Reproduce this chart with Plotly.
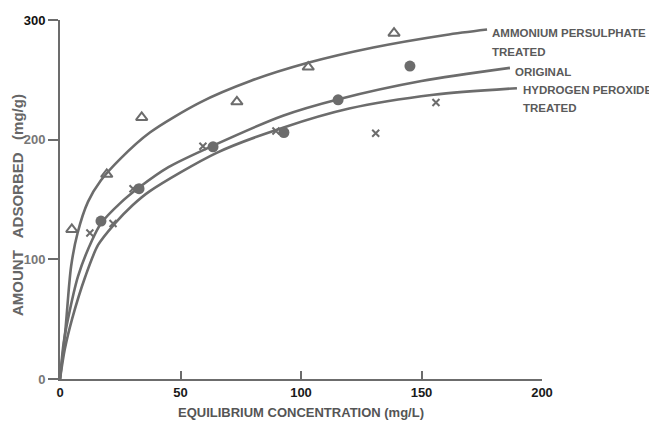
import plotly.graph_objects as go

# Measured data points
aps_x = [4.9, 19.4, 33.9, 73.4, 103.0, 138.6]
aps_y = [125, 171, 218.6, 231.6, 260.7, 289]
orig_x = [17.0, 32.8, 63.5, 92.9, 115.4, 145.2]
orig_y = [132, 159, 194, 206, 233.3, 261.5]
hp_x = [12.4, 22.0, 30.3, 59.3, 89.6, 131.0, 156.0]
hp_y = [122, 130, 159, 194.5, 207.3, 205.4, 231]

# Fitted curves
aps_cx = [0, 2.2, 4.6, 7.3, 11.6, 17, 25, 37.3, 58, 79, 102.5, 130, 160, 177.2]
aps_cy = [0, 40, 94, 122, 148, 166, 184, 206, 231, 249, 264, 277, 287.5, 292]
orig_cx = [0, 1.5, 3.3, 7.5, 13.3, 17, 25, 32.8, 45, 63.5, 92.5, 116, 150, 186.7]
orig_cy = [0, 30, 50, 86, 116, 130, 147, 160, 177, 195, 220, 234, 249, 260]
hp_cx = [0, 2, 5, 10.4, 15.8, 22.8, 30, 37.3, 65, 92.5, 120, 155, 189.6]
hp_cy = [0, 25, 50, 85, 112, 130, 145, 157, 189, 210, 226, 237.5, 243]

x_ticks = [0, 50, 100, 150, 200]
y_ticks = [0, 100, 200, 300]
y_ticktext = ["0", "100", "200", "<span style='color:#111'>300</span>"]

ink = "#6c6c6c"
fam = "Liberation Sans, Arial, sans-serif"

# plot area in reference pixels: x 60..542, y 20..379 (page body adds 8px offset)
L, T, W, H = 52, 12, 482, 359

fig = go.Figure()
for cx, cy in [(aps_cx, aps_cy), (orig_cx, orig_cy), (hp_cx, hp_cy)]:
    fig.add_trace(go.Scatter(x=cx, y=cy, mode="lines",
                             line=dict(color=ink, width=2.6, shape="spline", smoothing=0.8),
                             hoverinfo="skip", showlegend=False))

fig.add_trace(go.Scatter(x=aps_x, y=aps_y, mode="markers",
                         marker=dict(symbol="triangle-up-open", size=10, color=ink, line=dict(width=2, color=ink)),
                         showlegend=False))
fig.add_trace(go.Scatter(x=orig_x, y=orig_y, mode="markers",
                         marker=dict(symbol="circle", size=11, color=ink), showlegend=False))
fig.add_trace(go.Scatter(x=hp_x, y=hp_y, mode="markers",
                         marker=dict(symbol="x-thin", size=7, color=ink, line=dict(width=2, color=ink)),
                         showlegend=False))

labels = [
    ("AMMONIUM PERSULPHATE", 490, 33),
    ("TREATED", 490, 52),
    ("ORIGINAL", 513, 72),
    ("HYDROGEN PEROXIDE", 521, 90),
    ("TREATED", 521, 108),
]
for txt, px, py in labels:
    fig.add_annotation(text="<b>" + txt + "</b>", xref="paper", yref="paper",
                       x=(px - 60) / W, y=(379 - py) / H, xanchor="left", yanchor="middle",
                       showarrow=False, font=dict(family=fam, size=11.5, color="#5a5a5a"))

# y-axis title placed as rotated annotation
fig.add_annotation(text="<b>AMOUNT&nbsp;&nbsp; ADSORBED&nbsp;&nbsp; (mg/g)</b>", textangle=-90,
                   xref="paper", yref="paper", x=(17 - 60) / W, y=(379 - 205) / H,
                   xanchor="center", yanchor="middle", showarrow=False,
                   font=dict(family=fam, size=15, color="#666"))

fig.update_layout(
    width=657, height=426,
    margin=dict(l=L, r=657 - L - W, t=T, b=426 - T - H),
    paper_bgcolor="white", plot_bgcolor="white",
    font=dict(family=fam, color="#5a5a5a"),
    xaxis=dict(range=[0, 200], tickvals=x_ticks, ticks="inside", ticklen=8, tickwidth=2, tickcolor=ink,
               showline=True, linecolor=ink, linewidth=2, showgrid=False, zeroline=False, automargin=False,
               tickfont=dict(family=fam, size=13, color="#1a1a1a", weight="bold"),
               title=dict(text="<b>EQUILIBRIUM CONCENTRATION (mg/L)</b>", standoff=9,
                          font=dict(family=fam, size=13, color="#555"))),
    yaxis=dict(range=[0, 300], tickvals=y_ticks, ticktext=y_ticktext, ticks="outside", ticklen=10, tickwidth=2,
               tickcolor=ink, showline=True, linecolor=ink, linewidth=2, showgrid=False, zeroline=False,
               automargin=False,
               tickfont=dict(family=fam, size=13, color="#777", weight="bold")),
)

fig.write_html("out.html")
